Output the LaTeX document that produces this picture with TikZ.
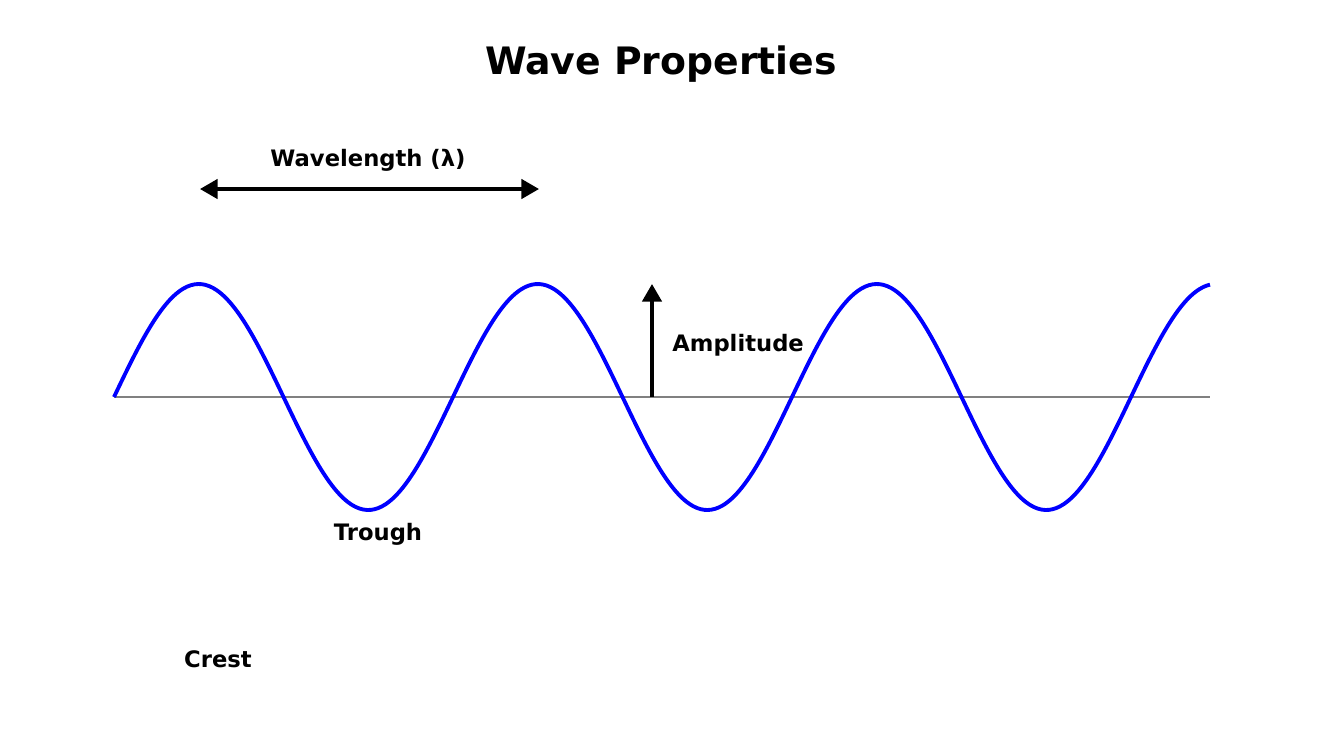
\documentclass[tikz,border=0pt]{standalone}
\usepackage{fontspec}
\setmainfont{DejaVu Sans}
\usetikzlibrary{arrows.meta,positioning}
\tikzstyle{wavetext} = [font=\bfseries\fontsize{12.9}{15}\selectfont, text=black, inner sep=0pt]
\tikzstyle{titletext} = [font=\bfseries\fontsize{21.5}{26}\selectfont, text=black, inner sep=0pt]
\tikzstyle{wave} = [draw, blue, line width=2.2pt, line join=round]
\tikzstyle{axis} = [draw, gray, line width=0.8pt]
\tikzstyle{arr} = [draw, black, line width=1.9pt, -{Triangle[length=10pt,width=11pt]}]
\tikzstyle{darr} = [draw, black, line width=1.9pt, {Triangle[length=10pt,width=11pt]}-{Triangle[length=10pt,width=11pt]}]

\begin{document}
\begin{tikzpicture}[x=0.02cm, y=-0.02cm]
    \useasboundingbox (0,0) rectangle (1322,755);
    \node [titletext] (title) at (661,64) {Wave Properties};

    % baseline and wave
    \coordinate (axis_l) at (114,397);
    \coordinate (axis_r) at (1210,397);
    \draw [axis] (axis_l) -- (axis_r);
    \draw [wave] plot [domain=114:1210, samples=300, smooth]
        (\x, {397 - 113*sin((\x-114)/339*360)});

    % wavelength
    \coordinate (wl_start) at (200,189);
    \coordinate (wl_end) at (539,189);
    \draw [darr] (wl_start) -- (wl_end);
    \node [wavetext] (wl) at (368,160) {Wavelength (λ)};

    % amplitude
    \coordinate (amp_base) at (652,397);
    \coordinate (amp_top) at (652,284);
    \draw [arr] (amp_base) -- (amp_top);
    \node [wavetext, anchor=west] (amp) at (672,345) {Amplitude};

    \node [wavetext] (trough) at (378,534) {Trough};
    \node [wavetext] (crest) at (218,659) {Crest};
\end{tikzpicture}
\end{document}
